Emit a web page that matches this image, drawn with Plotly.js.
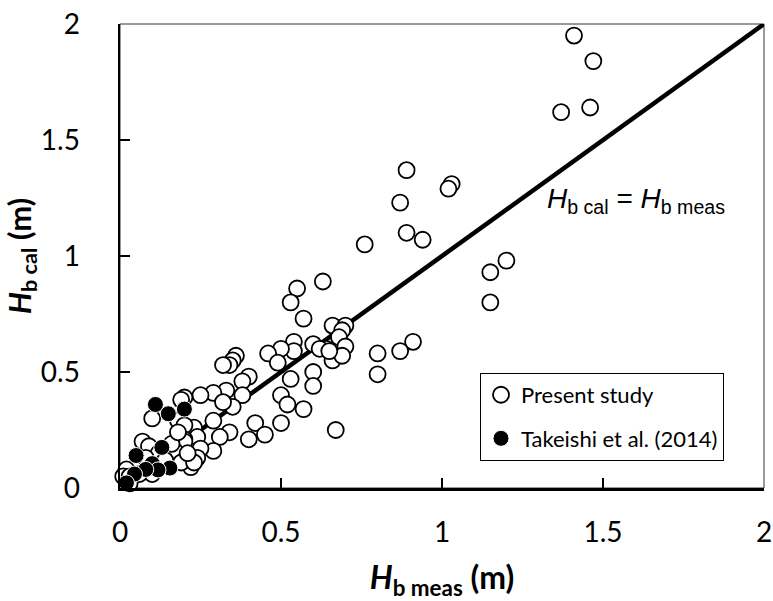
<!DOCTYPE html>
<html>
<head>
<meta charset="utf-8">
<script src="https://cdn.plot.ly/plotly-3.0.1.min.js"></script>
<style>html,body{margin:0;padding:0;background:#fff;}#chart{width:773px;height:601px;}</style>
</head>
<body>
<div id="chart"></div>
<script>
// Present study (open circles)
var presentX = [1.41,1.47,1.46,1.37,1.03,1.02,0.89,0.87,0.89,0.94,0.76,1.20,1.15,1.15,0.91,0.87,0.80,0.80,
  0.63,0.55,0.53,0.57,0.66,0.70,0.69,0.68,0.70,0.66,0.69,0.64,0.60,0.54,0.54,0.50,0.46,0.49,0.36,0.35,0.34,0.32,
  0.60,0.60,0.53,0.40,0.38,0.50,0.52,0.57,0.50,0.42,0.45,0.40,0.67,0.38,0.33,0.29,0.25,0.35,0.32,0.29,0.23,0.34,
  0.31,0.20,0.24,0.62,0.65,
  0.10,0.19,0.18,0.20,0.29,0.25,0.24,0.22,0.20,0.20,0.17,0.16,0.07,0.09,0.12,0.12,0.02,0.01,0.19,0.18,0.23,0.08,
  0.03,0.10,0.21,0.14,0.06,0.03];
var presentY = [1.95,1.84,1.64,1.62,1.31,1.29,1.37,1.23,1.10,1.07,1.05,0.98,0.93,0.80,0.63,0.59,0.58,0.49,
  0.89,0.86,0.80,0.73,0.70,0.70,0.68,0.65,0.61,0.55,0.57,0.60,0.62,0.63,0.59,0.60,0.58,0.54,0.57,0.55,0.53,0.53,
  0.50,0.44,0.47,0.48,0.46,0.40,0.36,0.34,0.28,0.28,0.23,0.21,0.25,0.40,0.42,0.41,0.40,0.35,0.37,0.29,0.26,0.24,
  0.22,0.39,0.22,0.60,0.59,
  0.30,0.38,0.29,0.27,0.16,0.17,0.13,0.09,0.21,0.20,0.16,0.19,0.20,0.18,0.15,0.09,0.08,0.05,0.11,0.24,0.11,0.13,
  0.05,0.06,0.15,0.12,0.06,0.02];
// Takeishi et al. (2014) (filled circles)
var takeishiX = [0.11,0.15,0.20,0.13,0.05,0.10,0.155,0.118,0.08,0.045,0.02];
var takeishiY = [0.36,0.32,0.34,0.175,0.14,0.105,0.086,0.078,0.08,0.06,0.022];
// 1:1 line
var lineX = [0, 2];
var lineY = [0, 2];
var tickVals = [0, 0.5, 1, 1.5, 2];
var tickText = ['0', '0.5', '1', '1.5', '2'];

var traces = [
  {x: lineX, y: lineY, mode: 'lines', line: {color: '#000', width: 4.5}, showlegend: false, hoverinfo: 'skip'},
  {x: presentX, y: presentY, mode: 'markers', name: 'Present study', legendgroup: 'a', cliponaxis: false,
   marker: {symbol: 'circle', size: 16, color: '#fff', line: {color: '#000', width: 1.8}}},
  {x: takeishiX, y: takeishiY, mode: 'markers', name: 'Takeishi et al. (2014)', legendgroup: 'b', cliponaxis: false,
   marker: {symbol: 'circle', size: 16, color: '#000', line: {color: '#fff', width: 1}}}
];

var axisCommon = {
  range: [0, 2], tickvals: tickVals, ticktext: tickText,
  ticks: 'inside', ticklen: 10, tickwidth: 1.5, tickcolor: '#000',
  showline: true, linecolor: '#000', linewidth: 2.5, showgrid: false, zeroline: false,
  tickfont: {family: 'Lato', size: 28, color: '#000'}, fixedrange: true
};

var layout = {
  width: 773, height: 601,
  margin: {l: 120, r: 9, t: 24, b: 113},
  paper_bgcolor: '#fff', plot_bgcolor: '#fff',
  xaxis: Object.assign({}, axisCommon, {
    ticklabelstandoff: 18,
    title: {text: '<b><i>H</i><sub>b meas</sub> (m)</b>', font: {family: 'Lato', size: 32, color: '#000'}, standoff: 20}
  }),
  yaxis: Object.assign({}, axisCommon, {
    ticklabelstandoff: 32,
    title: {text: '<b><i>H</i><sub>b cal</sub> (m)</b>', font: {family: 'Lato', size: 31, color: '#000'}, standoff: 4}
  }),
  shapes: [
    {type: 'rect', xref: 'paper', yref: 'paper', x0: 0, y0: 0, x1: 1, y1: 1, line: {color: '#333', width: 1}, layer: 'below'}
  ],
  annotations: [
    {x: 1.32, y: 1.24, xref: 'x', yref: 'y', xanchor: 'left', yanchor: 'middle', showarrow: false,
     text: '<i>H</i><sub>b cal</sub> = <i>H</i><sub>b meas</sub>',
     font: {family: 'Liberation Sans', size: 28, color: '#000'}}
  ],
  legend: {
    x: 0.559, y: 0.248, xanchor: 'left', yanchor: 'top',
    bgcolor: '#fff', bordercolor: '#000', borderwidth: 1,
    font: {family: 'Lato', size: 22, color: '#000'},
    traceorder: 'grouped', tracegroupgap: 12
  },
  showlegend: true
};

Plotly.newPlot('chart', traces, layout, {displayModeBar: false, staticPlot: true});
</script>
</body>
</html>
